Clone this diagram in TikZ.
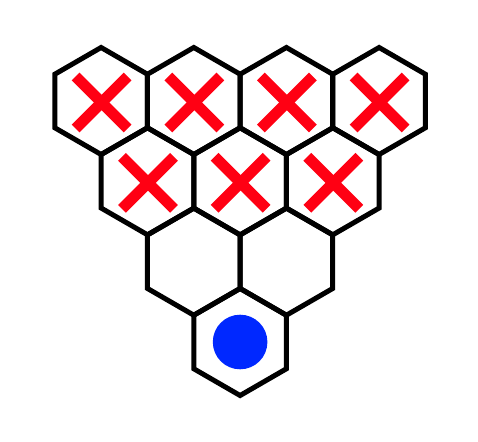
\documentclass[tikz,border=0pt]{standalone}
\usetikzlibrary{calc}
\definecolor{xred}{HTML}{FF0013}
\definecolor{dotblue}{HTML}{0028FF}
\tikzset{
  hexline/.style={draw=black,line width=5pt,line join=miter},
  crossline/.style={draw=xred,line width=11pt,line cap=butt},
  dotfill/.style={fill=dotblue,draw=none},
}
\newcommand{\hexR}{53.5}
\begin{document}
\begin{tikzpicture}[x=1pt,y=-1pt]
\useasboundingbox[fill=white] (0,0) rectangle (478,441);
% centres
\foreach \n/\cx/\cy in {a1/101.1/101, a2/193.8/101, a3/286.4/101, a4/379.1/101,
                        b1/147.5/181.3, b2/240.1/181.3, b3/332.8/181.3,
                        c1/193.8/261.7, c2/286.4/261.7,
                        d1/240.1/342}{
  \coordinate (\n) at (\cx,\cy);
}
% crosses
\foreach \n in {a1,a2,a3,a4,b1,b2,b3}{
  \coordinate (m) at ($(\n)+(0.5,1.5)$);
  \draw[crossline] ($(m)+(-26,-26)$) -- ($(m)+(26,26)$);
  \draw[crossline] ($(m)+(-26,26)$) -- ($(m)+(26,-26)$);
}
% blue dot
\fill[dotfill] (d1) circle[radius=27.3];
% hexagons
\foreach \n in {a1,a2,a3,a4,b1,b2,b3,c1,c2,d1}{
  \draw[hexline] ($(\n)+(90:\hexR)$) -- ($(\n)+(150:\hexR)$) -- ($(\n)+(210:\hexR)$)
    -- ($(\n)+(270:\hexR)$) -- ($(\n)+(330:\hexR)$) -- ($(\n)+(30:\hexR)$) -- cycle;
}
\end{tikzpicture}
\end{document}
